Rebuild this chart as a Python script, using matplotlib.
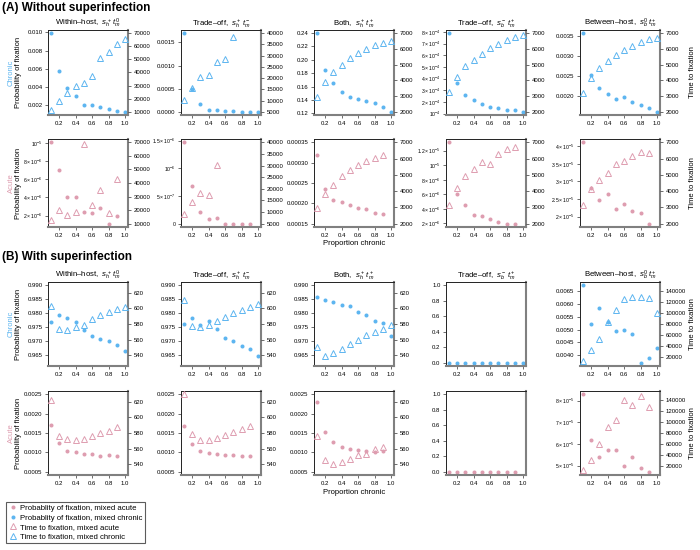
import numpy as np
import matplotlib.pyplot as plt
from matplotlib.lines import Line2D
from matplotlib.ticker import MultipleLocator, FuncFormatter

plt.rcParams['font.family'] = ['Liberation Sans', 'DejaVu Sans']
plt.rcParams['mathtext.fontset'] = 'custom'
plt.rcParams['mathtext.rm'] = 'Liberation Sans'
plt.rcParams['mathtext.it'] = 'Liberation Sans:italic'
plt.rcParams['mathtext.bf'] = 'Liberation Sans:bold'

nan = np.nan
prop = [0.1, 0.2, 0.3, 0.4, 0.5, 0.6, 0.7, 0.8, 0.9, 1.0]

titles = [r'Within–host,  $s_h^+\,t_m^0$', r'Trade–off,  $s_h^+\,t_m^-$',
          r'Both,  $s_h^+\,t_m^+$', r'Trade–off,  $s_b^-\,t_m^+$',
          r'Between–host,  $s_b^0\,t_m^+$']

# (A) without superinfection
a_chronic_prob = [
    [0.0099, 0.0058, 0.00396, 0.00304, 0.00207, 0.0020, 0.00185, 0.00156, 0.00137, 0.0013],
    [0.0017, 0.00049, 0.00016, 0.00005, 0.00003, 0.00001, 0.00001, 0.0, 0.0, 0.0],
    [0.24, 0.185, 0.165, 0.152, 0.144, 0.141, 0.1377, 0.135, 0.130, 0.122],
    [7.9e-4, 3.64e-4, 2.58e-4, 2.13e-4, 1.84e-4, 1.55e-4, 1.47e-4, 1.27e-4, 1.35e-4, 1.15e-4],
    [0.00356, 0.00252, 0.00221, 0.00205, 0.00193, 0.00198, 0.00186, 0.00177, 0.00171, 0.00161],
]
a_chronic_time = [
    [11500, 17900, 24000, 29400, 31700, 37600, 51400, 55700, 62100, 65400],
    [10100, 15600, 20600, 21200, 27100, 28600, 38500, nan, nan, nan],
    [2970, 3910, 4530, 5000, 5410, 5760, 5990, 6230, 6380, 6530],
    [3280, 4210, 4910, 5300, 5700, 6060, 6300, 6570, 6740, 6890],
    [3190, 4130, 4770, 5260, 5620, 5940, 6210, 6450, 6620, 6720],
]
a_acute_prob = [
    [1.01e-5, 7.0e-6, 4.0e-6, 4.0e-6, 2.4e-6, 2.3e-6, 2.8e-6, 1.1e-6, 2.0e-6],
    [1.47e-6, 6.8e-7, 2.2e-7, 9e-8, 1e-7, 0, 0, 0, 0],
    [3.18e-4, 2.36e-4, 2.09e-4, 2.04e-4, 1.96e-4, 1.89e-4, 1.86e-4, 1.77e-4, 1.73e-4],
    [1.316e-5, 6.0e-6, 4.55e-6, 3.2e-6, 3.0e-6, 2.6e-6, 2.15e-6, 1.95e-6, 1.95e-6],
    [4.11e-5, 2.8e-5, 2.46e-5, 2.63e-5, 2.23e-5, 2.37e-5, 2.17e-5, 2.1e-5, 1.8e-5],
]
a_acute_time = [
    [13100, 20400, 16200, 18300, 68700, 24000, 34500, 18000, 43100],
    [9150, 14470, 18270, 17500, 30100, nan, nan, nan, nan],
    [2950, 3850, 4390, 4900, 5320, 5590, 5860, 6050, 6210],
    [3150, 4190, 4940, 5350, 5770, 5680, 6290, 6570, 6700],
    [3150, 4120, 4710, 5140, 5640, 5830, 6130, 6420, 6370],
]

# (B) with superinfection
b_chronic_prob = [
    [0.9768, 0.9793, 0.9783, 0.9768, 0.9738, 0.9716, 0.9707, 0.9697, 0.9683, 0.9661],
    [0.9761, 0.9783, 0.9756, 0.9772, 0.9742, 0.9709, 0.9697, 0.9681, 0.9671, 0.9643],
    [0.9858, 0.9846, 0.9838, 0.9829, 0.9825, 0.9804, 0.9794, 0.9770, 0.9762, 0.9717],
    [0, 0, 0, 0, 0, 0, 0, 0, 0, 0],
    [0.00672, 0.00522, 0.00583, 0.00528, 0.00494, 0.00497, 0.00482, 0.00371, 0.00388, 0.00427],
]
b_chronic_time = [
    [603.7, 573.1, 572.3, 575.7, 578.3, 586.0, 591.2, 595.0, 599.4, 602.4],
    [611.4, 577.4, 575.7, 578.7, 583.9, 589.0, 594.2, 597.6, 602.4, 605.8],
    [549.8, 538.7, 543.0, 548.5, 554.9, 560.0, 565.5, 569.4, 574.0, 578.3],
    [nan] * 10,
    [14100, 33100, 53900, 83000, 105000, 125200, 129400, 128200, 127600, 100400],
]
b_acute_prob = [
    [0.0017, 0.00124, 0.00104, 0.00101, 0.00096, 0.00096, 0.00091, 0.00093, 0.0009],
    [0.00167, 0.00122, 0.00104, 0.00099, 0.00097, 0.00094, 0.00093, 0.00091, 0.0009],
    [0.00229, 0.00153, 0.00127, 0.00114, 0.0011, 0.00106, 0.00103, 0.001, 0.00103],
    [0, 0, 0, 0, 0, 0, 0, 0, 0],
    [8.3e-5, 6.2e-5, 5.4e-5, 5.74e-5, 5.71e-5, 4.97e-5, 5.42e-5, 4.88e-5, 4.71e-5],
]
b_acute_time = [
    [622, 576, 572, 571.4, 572.6, 575.7, 579.6, 583, 587.8],
    [630, 579, 570.5, 570.5, 573, 577.4, 580.8, 584.7, 588.6],
    [576, 545.8, 540.6, 542.8, 546.6, 551.8, 552.6, 559, 561.6],
    [nan] * 9,
    [13300, 32200, 60300, 91400, 103600, 138800, 130200, 147300, 126600],
]

blue = '#5DB5F0'
pink = '#DE9DB0'

# axis settings: left tick step, left format, fixed left range
left_step = [[0.002, 0.0005, 0.02, 1e-4, 0.0005],
             [2e-6, 5e-7, 5e-5, 2e-6, 5e-6],
             [0.005, 0.005, 0.005, 0.2, 0.0005],
             [0.0005, 0.0005, 0.0005, 0.2, 1e-5]]
left_fmt = [[3, 4, 2, 'sci', 4],
            ['sci', 'sci', 5, 'sci', 'sci'],
            [3, 3, 3, 1, 4],
            [4, 4, 4, 1, 'sci']]
left_fix = [[None] * 5,
            [None, None, (0.00015, 0.00035), None, None],
            [(0.962, 0.990)] * 3 + [(0, 1), None],
            [(0.0005, 0.0025)] * 3 + [(0, 1), None]]
right_lim = [[(10000, 70000), (5000, 40000), (2000, 7000), (2000, 7000), (2000, 7000)],
             [(530, 630), (530, 630), (530, 630), None, (10000, 150000)]]
right_step = [[10000, 5000, 1000, 1000, 1000], [20, 20, 20, None, 20000]]

col_left = [48, 181, 314, 446, 580]
col_w = 80
row_top = [30, 139, 282, 391]
row_h = [85, 88, 84, 84]
W, H = 700, 550


def pad(lo, hi):
    d = (hi - lo) * 0.04
    return lo - d, hi + d


def sci(v, pos):
    if abs(v) < 1e-20:
        return '0'
    e = int(np.floor(np.log10(abs(v)) + 1e-6))
    m = round(v / 10.0**e, 2)
    if abs(m - 1) < 1e-6:
        return r'$10^{%d}$' % e
    return r'$%g\times10^{%d}$' % (m, e)


def style(ax):
    for s in ['left', 'top']:
        ax.spines[s].set_linewidth(0.7)
        ax.spines[s].set_color('#222222')
    for s in ['right', 'bottom']:
        ax.spines[s].set_linewidth(1.5)
        ax.spines[s].set_color('#808080')
    ax.tick_params(direction='out', length=2.5, width=0.5, labelsize=4.3, pad=1.5,
                   color='#333333')


fig = plt.figure(figsize=(7, 5.5), dpi=100)

rows = [(a_chronic_prob, a_chronic_time, blue), (a_acute_prob, a_acute_time, pink),
        (b_chronic_prob, b_chronic_time, blue), (b_acute_prob, b_acute_time, pink)]

for r, (probs, times, col) in enumerate(rows):
    top, h = row_top[r], row_h[r]
    for c in range(5):
        ax = fig.add_axes([col_left[c] / W, 1 - (top + h) / H, col_w / W, h / H])
        style(ax)
        p = np.array(probs[c], dtype=float)
        t = np.array(times[c], dtype=float)
        xs = prop[:len(p)]
        ax.plot(xs, p, 'o', color=col, ms=2.9, mec='none')
        ax.set_xlim(pad(0.1, 1.0))
        ax.xaxis.set_major_locator(MultipleLocator(0.2))
        ax.xaxis.set_major_formatter(FuncFormatter(lambda v, pos: '%.1f' % v))
        if left_fix[r][c] is not None:
            ax.set_ylim(pad(*left_fix[r][c]))
        else:
            ax.set_ylim(pad(np.nanmin(p), np.nanmax(p)))
        ax.yaxis.set_major_locator(MultipleLocator(left_step[r][c]))
        f = left_fmt[r][c]
        if f == 'sci':
            ax.yaxis.set_major_formatter(FuncFormatter(sci))
            ax.tick_params(axis='y', labelsize=3.7)
        else:
            ax.yaxis.set_major_formatter(FuncFormatter(lambda v, pos, f=f: '%.*f' % (f, v)))
        if r in (0, 2):
            ax.set_title(titles[c], fontsize=5.6, pad=2.5)
        rl = right_lim[r // 2][c]
        if rl is not None:
            ax2 = ax.twinx()
            for s in ax2.spines.values():
                s.set_visible(False)
            ax2.plot(xs, t, '^', color=col, ms=5, mfc='none', mew=0.7)
            ax2.set_ylim(pad(*rl))
            ax2.yaxis.set_major_locator(MultipleLocator(right_step[r // 2][c]))
            ax2.yaxis.set_major_formatter(FuncFormatter(lambda v, pos: '%d' % round(v)))
            ax2.tick_params(direction='out', length=2.5, width=0.5, labelsize=4.3, pad=1.5,
                            color='#333333')
    yc = 1 - (top + h / 2) / H
    fig.text(11 / W, yc, 'Chronic' if col == blue else 'Acute', rotation=90, color=col,
             fontsize=5.5, ha='center', va='center')
    fig.text(19 / W, yc, 'Probability of fixation', rotation=90, fontsize=5.5,
             ha='center', va='center')
    fig.text(693 / W, yc, 'Time to fixation', rotation=90, fontsize=5.5,
             ha='center', va='center')

fig.text(2 / W, 1 - 8 / H, '(A) Without superinfection', fontsize=8.5, weight='bold',
         ha='left', va='center')
fig.text(2 / W, 1 - 257 / H, '(B) With superinfection', fontsize=8.5, weight='bold',
         ha='left', va='center')
for y in (243, 493):
    fig.text(354 / W, 1 - y / H, 'Proportion chronic', fontsize=5.5, ha='center', va='center')

handles = [Line2D([], [], ls='none', marker='o', color=pink, ms=2.9, mec='none'),
           Line2D([], [], ls='none', marker='o', color=blue, ms=2.9, mec='none'),
           Line2D([], [], ls='none', marker='^', color=pink, ms=5, mfc='none', mew=0.7),
           Line2D([], [], ls='none', marker='^', color=blue, ms=5, mfc='none', mew=0.7)]
labels = ['Probablity of fixation, mixed acute', 'Probablity of fixation, mixed chronic',
          'Time to fixation, mixed acute', 'Time to fixation, mixed chronic']
leg = fig.legend(handles, labels, loc='upper left', bbox_to_anchor=(6 / W, 1 - 502 / H),
                 fontsize=5.6, frameon=True, fancybox=False, edgecolor='#333333',
                 handlelength=1.0, handletextpad=0.5, borderpad=0.35, labelspacing=0.25,
                 borderaxespad=0)
leg.get_frame().set_linewidth(0.8)

fig.savefig('out.png', dpi=100)
